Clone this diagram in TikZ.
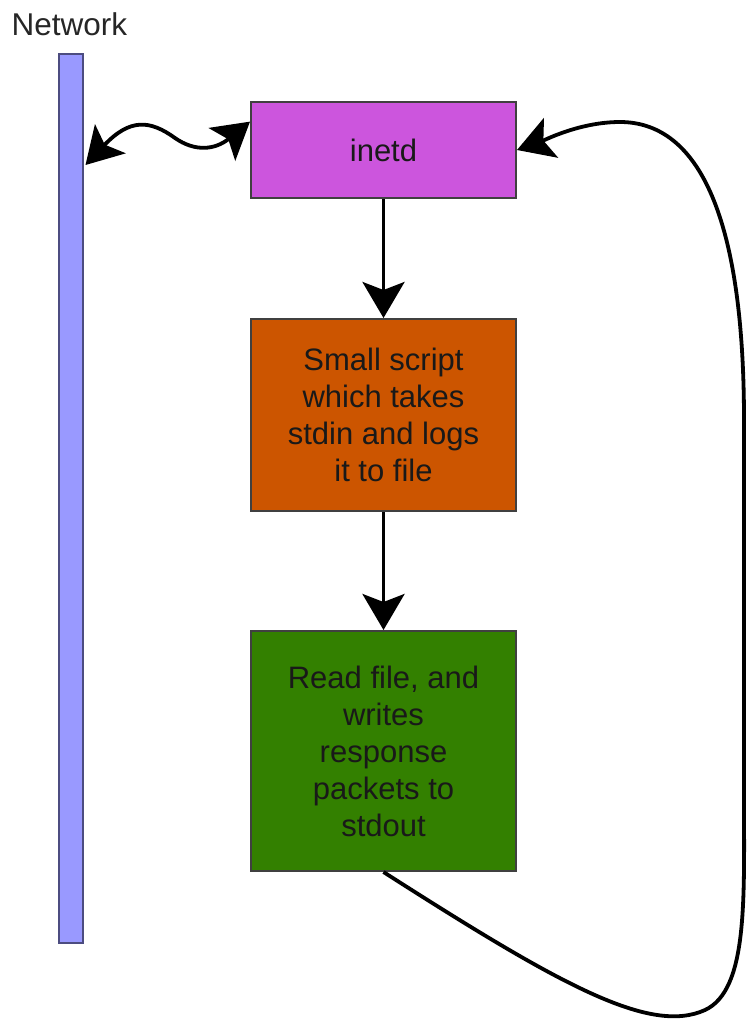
\documentclass[tikz,border=0pt]{standalone}
\usepackage{fontspec}
\setmainfont{Liberation Sans}
\usetikzlibrary{arrows.meta,calc}
\definecolor{barblue}{HTML}{9999FF}
\definecolor{inetdc}{HTML}{CC55DD}
\definecolor{orangec}{HTML}{CC5500}
\definecolor{greenc}{HTML}{338000}
\tikzset{
  x=1pt,y=-1pt,
  procbox/.style={draw=black!75, line width=2pt, minimum width=265pt, align=center,
    text=black!90, font=\fontsize{31}{37}\selectfont, inner sep=0pt, anchor=north west},
  bighead/.tip={Stealth[length=36pt,width=42pt,inset=8pt]},
  conn/.style={line width=3.8pt, -bighead},
  wconn/.style={line width=3.8pt, bighead-bighead},
}
\begin{document}
\begin{tikzpicture}
\useasboundingbox (0,0) rectangle (747,1023);
\node[font=\fontsize{31.5}{36}\selectfont, text=black!85, anchor=west] (netlabel) at (8,24) {Network};
\node[draw=barblue!50!black, line width=1.5pt, fill=barblue, minimum width=24pt, minimum height=889pt,
  inner sep=0pt, anchor=north west] (bar) at (58,53) {};
\node[procbox, fill=inetdc, minimum height=96pt] (inetd) at (250,101) {inetd};
\node[procbox, fill=orangec, minimum height=192pt] (script) at (250,318)
  {Small script\\which takes\\stdin and logs\\it to file};
\node[procbox, fill=greenc, minimum height=240pt] (reader) at (250,630)
  {Read file, and\\writes\\response\\packets to\\stdout};
\draw[conn] (inetd.south) -- (script.north);
\draw[conn] (script.south) -- (reader.north);
\draw[wconn] ($(bar.north east)+(2,112)$) .. controls (130,118) and (150,120) .. (175,138)
  .. controls (195,152) and (215,150) .. (inetd.168);
\draw[conn] (reader.south) .. controls (560,985) and (650,1035) .. (705,1010)
  .. controls (748,990) and (744,900) .. (744,800) -- (744,420)
  .. controls (744,220) and (700,122) .. (620,122)
  .. controls (580,122) and (545,140) .. (inetd.east);
\end{tikzpicture}
\end{document}
